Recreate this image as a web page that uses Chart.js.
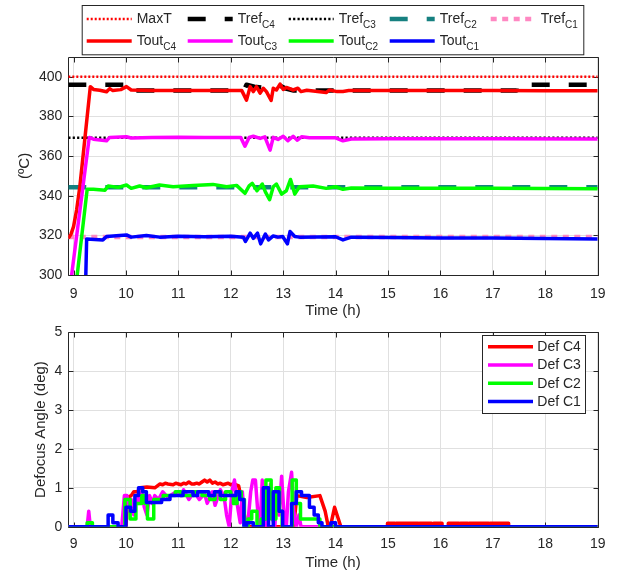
<!DOCTYPE html>
<html>
<head>
<meta charset="utf-8">
<script src="https://cdn.jsdelivr.net/npm/chart.js@4.4.0/dist/chart.umd.min.js"></script>
<style>
  body { margin: 0; background: #fff; }
  #wrap { position: relative; width: 617px; height: 574px; }
  #wrap canvas { position: absolute; left: 0; }
  #tempChart { top: 0; width: 617px; height: 322px; }
  #defChart { top: 318px; width: 617px; height: 256px; }
</style>
</head>
<body>
<div id="wrap">
  <canvas id="tempChart" width="617" height="322"></canvas>
  <canvas id="defChart" width="617" height="256"></canvas>
</div>
<script>
// ---- data ----
const hourTicks = [9, 10, 11, 12, 13, 14, 15, 16, 17, 18, 19];
const tempTicks = [300, 320, 340, 360, 380, 400];
const angleTicks = [0, 1, 2, 3, 4, 5];

// set points (ºC)
const maxT = 400;
const trefC3 = 369.2;
const trefC2 = 344.3;
const trefC1 = 319.2;
const trefC4 = [
  [8.9, 396], [10.0, 396], [10.0, 393], [12.25, 393], [12.3, 396], [12.45, 395],
  [12.6, 394.5], [12.75, 395], [12.9, 396], [13.05, 394], [13.2, 393],
  [17.45, 393], [17.45, 396], [19, 396]
];

// outlet temperatures (ºC)
const toutC4 = [
  [8.9, 318.5], [8.95, 320.5], [9.0, 324.4], [9.06, 333], [9.12, 344.5], [9.22, 369.7],
  [9.32, 395], [9.38, 393.6], [9.5, 393.2], [9.63, 392.4], [9.69, 394], [9.75, 393],
  [9.9, 393.5], [10.01, 395], [10.1, 393.3], [10.5, 393.0], [11.0, 393.1], [11.5, 393.0],
  [12.0, 393.1], [12.21, 393], [12.3, 388.2], [12.37, 395], [12.43, 392.5], [12.49, 395],
  [12.56, 391.7], [12.62, 394.2], [12.68, 392.5], [12.77, 388], [12.81, 394.2],
  [12.87, 393.3], [12.94, 396.3], [13.0, 393.6], [13.06, 394.6], [13.19, 393.3],
  [13.28, 394.2], [13.34, 392.5], [13.45, 393.2], [13.82, 392], [13.88, 393.3],
  [14.03, 392.5], [14.14, 392.6], [14.25, 393], [15, 393], [16, 393], [17, 393],
  [18, 392.9], [19, 392.9]
];
const toutC3 = [
  [8.93, 293], [9.3, 369.4], [9.38, 368.5], [9.63, 367.7], [9.69, 369.4], [10.01, 369.7],
  [10.1, 369.1], [10.5, 369.4], [11.0, 369.5], [11.5, 369.3], [12.0, 369.4], [12.19, 369.4],
  [12.27, 365], [12.35, 369.4], [12.43, 370], [12.56, 368.9], [12.65, 369.7], [12.75, 363],
  [12.81, 369.4], [12.9, 368.4], [13.0, 370], [13.09, 367.7], [13.19, 370], [13.27, 368],
  [13.35, 369.7], [13.5, 369.2], [14.0, 369.2], [14.14, 367.7], [14.3, 368.6],
  [15, 368.7], [17, 368.7], [19, 368.6]
];
const toutC2 = [
  [9.05, 295.5], [9.26, 343.2], [9.38, 343.2], [9.6, 342.8], [9.66, 344.9], [9.85, 344.2],
  [10.01, 345.4], [10.1, 343.7], [10.26, 344.9], [10.39, 344], [10.64, 345.4], [10.9, 344.5],
  [11.28, 345.2], [11.66, 345.7], [11.92, 344.5], [12.11, 345.2], [12.27, 341.2],
  [12.35, 344.9], [12.41, 346.2], [12.5, 342.5], [12.6, 345.9], [12.66, 341.9], [12.74, 338],
  [12.81, 344.5], [12.87, 345.9], [12.97, 340.8], [13.06, 342.5], [13.14, 348.2],
  [13.22, 340.8], [13.31, 344.5], [13.57, 344.9], [13.82, 343.7], [14.0, 344.5],
  [14.14, 343.2], [14.3, 343.9], [15, 343.8], [17, 343.7], [19, 343.5]
];
const toutC1 = [
  [9.23, 295], [9.25, 318.2], [9.56, 317.7], [9.63, 319.4], [10.01, 320.2], [10.1, 319.1],
  [10.39, 319.9], [10.64, 319.1], [11.0, 319.6], [11.5, 319.3], [12.0, 319.5], [12.24, 319.1],
  [12.28, 316.9], [12.37, 321.1], [12.43, 318.5], [12.51, 321.1], [12.57, 315.7],
  [12.66, 320.7], [12.72, 317.7], [12.81, 319.7], [12.9, 319.1], [12.99, 319.4],
  [13.08, 315.7], [13.13, 321.9], [13.22, 319.4], [13.31, 319.1], [14.0, 319.3],
  [14.14, 317.7], [14.3, 319.1], [15, 318.9], [16, 318.7], [17, 318.6], [18, 318.4], [19, 318.2]
];

// defocus angles (deg)
const defC4 = [
  [8.9, 0], [10.0, 0], [10.03, 0.75], [10.1, 0.8], [10.15, 0.9], [10.22, 0.9], [10.27, 1.0],
  [10.4, 1.02], [10.55, 1.0], [10.6, 1.05], [10.65, 1.1], [10.7, 1.08], [10.75, 1.12],
  [10.8, 1.1], [10.9, 1.08], [10.95, 1.12], [11.0, 1.1], [11.05, 1.08], [11.1, 1.12],
  [11.15, 1.1], [11.2, 1.15], [11.25, 1.1], [11.3, 1.1], [11.35, 1.12], [11.4, 1.1],
  [11.45, 1.15], [11.5, 1.2], [11.55, 1.15], [11.6, 1.2], [11.65, 1.12], [11.7, 1.15],
  [11.75, 1.1], [11.8, 1.12], [11.85, 1.08], [11.9, 1.1], [11.95, 1.12], [12.0, 1.08],
  [12.05, 1.1], [12.1, 1.08], [12.15, 1.05], [12.22, 0.6], [12.3, 0], [13.2, 0],
  [13.26, 0.8], [13.45, 0.75], [13.7, 0.8], [13.8, 0.4], [13.86, 0], [13.9, 0],
  [13.98, 0.5], [14.1, 0]
];
// short flickers of Def C4 in the afternoon: [start, end] (h) at burstLevel
const burstLevel = 0.09;
const defC4Bursts = [
  [14.99, 15.13], [15.15, 15.58], [15.6, 15.83], [15.87, 16.03],
  [16.15, 16.35], [16.38, 16.52], [16.55, 16.92], [16.95, 17.3]
];
const defC3 = [
  [8.9, 0], [9.26, 0], [9.29, 0.4], [9.32, 0], [9.92, 0], [9.97, 0.8], [10.02, 0.8],
  [10.06, 0.4], [10.1, 0.7], [10.15, 0.3], [10.2, 0.8], [10.25, 0.6], [10.3, 0.9],
  [10.35, 0.5], [10.4, 0.3], [10.45, 0.8], [10.5, 0.6], [10.55, 0.8], [10.62, 0.7],
  [10.7, 0.9], [10.8, 0.75], [10.9, 0.85], [11.0, 0.9], [11.05, 0.8], [11.1, 0.95],
  [11.2, 0.7], [11.3, 0.9], [11.4, 0.7], [11.5, 0.85], [11.55, 0.6], [11.65, 0.9],
  [11.7, 0.55], [11.8, 0.95], [11.87, 0.8], [11.92, 0.3], [11.97, 0], [12.02, 0.9],
  [12.07, 1.2], [12.12, 0.6], [12.18, 0.1], [12.22, 0.9], [12.26, 0.2], [12.32, 0],
  [12.38, 0.9], [12.42, 1.2], [12.47, 1.2], [12.52, 0.3], [12.56, 0], [12.6, 1.2],
  [12.64, 0.5], [12.68, 0], [12.72, 0.6], [12.76, 1.1], [12.8, 0.2], [12.84, 0],
  [12.88, 0.9], [12.92, 0.3], [12.97, 1.3], [13.02, 0.2], [13.06, 0], [13.1, 0.9],
  [13.16, 1.4], [13.2, 0.4], [13.25, 0], [13.3, 0.3], [13.34, 0], [19, 0]
];
// C2 and C1 hold each value until the next time stamp
const defC2 = [
  [8.9, 0], [9.26, 0.1], [9.36, 0], [9.98, 0.7], [10.08, 0.2], [10.19, 0.6], [10.3, 0.8],
  [10.36, 0.6], [10.41, 0.2], [10.53, 0.7], [10.71, 0.8], [10.94, 0.9], [11.05, 0.8],
  [11.3, 0.9], [11.45, 0.8], [11.6, 0.7], [11.7, 0.9], [11.8, 0.7], [11.9, 0.9], [12.0, 0.8],
  [12.05, 0.6], [12.12, 0.9], [12.2, 0.7], [12.26, 0], [12.33, 0.2], [12.4, 0.4], [12.5, 0],
  [12.58, 0.2], [12.67, 1.2], [12.77, 0.2], [12.86, 1.0], [12.93, 0.4], [12.98, 0],
  [13.17, 1.2], [13.25, 0.6], [13.33, 0.2], [13.7, 0], [19, 0]
];
const defC1 = [
  [8.9, 0], [9.66, 0.3], [9.75, 0.1], [9.85, 0], [10.0, 0.5], [10.09, 0.4], [10.17, 0.8],
  [10.24, 1.0], [10.32, 0.9], [10.39, 0.62], [10.68, 0.7], [10.84, 0.8], [11.09, 0.9],
  [11.28, 0.8], [11.37, 0.9], [11.58, 0.8], [11.69, 0.9], [11.8, 0.8], [12.1, 0.9],
  [12.17, 0.7], [12.25, 0], [12.3, 0.1], [12.43, 0], [12.62, 1.0], [12.72, 0],
  [12.81, 0.9], [12.92, 0.4], [12.99, 0], [13.16, 0.6], [13.25, 0.9], [13.35, 0.8],
  [13.5, 0.5], [13.59, 0.3], [13.67, 0.1], [13.74, 0], [13.91, 0.1], [14.0, 0], [19, 0]
];

// ---- helpers ----
const ink = "#262626";
const gridGray = "#e0e0e0";
const family = "'Liberation Sans', Arial, Helvetica, sans-serif";

const toPoints = pairs => pairs.map(([x, y]) => ({ x, y }));
const flat = v => toPoints([[8.9, v], [19, v]]);

function withBursts(pairs, bursts, level) {
  const out = pairs.slice();
  bursts.forEach(([a, b]) => out.push([a, 0], [a, level], [b, level], [b, 0]));
  out.push([19, 0]);
  return out;
}

// axes box with inward tick marks, drawn under the data
const framePlugin = {
  id: "frame",
  beforeDatasetsDraw(chart) {
    const { ctx, chartArea: a, scales } = chart;
    const L = Math.round(a.left) + 0.5, R = Math.round(a.right) + 0.5;
    const T = Math.round(a.top) + 0.5, B = Math.round(a.bottom) + 0.5;
    ctx.save();
    ctx.strokeStyle = ink;
    ctx.lineWidth = 1;
    ctx.beginPath();
    scales.x.ticks.forEach(t => {
      const px = Math.round(scales.x.getPixelForValue(t.value)) + 0.5;
      ctx.moveTo(px, B); ctx.lineTo(px, B - 5);
      ctx.moveTo(px, T); ctx.lineTo(px, T + 5);
    });
    scales.y.ticks.forEach(t => {
      const py = Math.round(scales.y.getPixelForValue(t.value)) + 0.5;
      ctx.moveTo(L, py); ctx.lineTo(L + 5, py);
      ctx.moveTo(R, py); ctx.lineTo(R - 5, py);
    });
    ctx.rect(L, T, R - L, B - T);
    ctx.stroke();
    ctx.restore();
  }
};

// boxed legend with subscripted labels
const boxLegend = {
  id: "boxLegend",
  afterDraw(chart, args, o) {
    const { ctx } = chart;
    ctx.save();
    ctx.fillStyle = "#fff";
    ctx.fillRect(o.box[0], o.box[1], o.box[2], o.box[3]);
    ctx.strokeStyle = ink;
    ctx.lineWidth = 1;
    ctx.strokeRect(o.box[0] + 0.5, o.box[1] + 0.5, o.box[2], o.box[3]);
    chart.data.datasets.forEach((ds, i) => {
      const col = i % o.perRow, row = Math.floor(i / o.perRow);
      const x = o.x0 + col * o.colStep, y = o.y0 + row * o.rowStep;
      ctx.strokeStyle = ds.borderColor;
      ctx.lineWidth = ds.borderWidth;
      ctx.setLineDash(ds.borderDash || []);
      ctx.beginPath();
      ctx.moveTo(x, y);
      ctx.lineTo(x + o.sample, y);
      ctx.stroke();
      ctx.setLineDash([]);
      ctx.fillStyle = ink;
      ctx.textBaseline = "middle";
      ctx.font = "14px " + family;
      ctx.fillText(ds.label, x + o.gap, y + 0.5);
      if (ds.sub) {
        const w = ctx.measureText(ds.label).width;
        ctx.font = "10px " + family;
        ctx.fillText(ds.sub, x + o.gap + w, y + 6);
      }
    });
    ctx.restore();
  }
};

function xAxis(height, tickPad, titlePad) {
  return {
    type: "linear", min: 8.9, max: 19,
    afterBuildTicks: s => { s.ticks = hourTicks.map(v => ({ value: v })); },
    afterFit: s => { s.height = height; },
    grid: { color: gridGray, drawTicks: false },
    border: { display: false },
    ticks: { color: ink, font: { family, size: 14 }, padding: tickPad, maxRotation: 0, autoSkip: false },
    title: { display: true, text: "Time (h)", color: ink, font: { family, size: 15 }, padding: { top: 0, bottom: titlePad } }
  };
}

function yAxis(min, max, ticks, title, titlePad) {
  return {
    min, max,
    afterBuildTicks: s => { s.ticks = ticks.map(v => ({ value: v })); },
    afterFit: s => { s.width = 68.3; },
    grid: { color: gridGray, drawTicks: false },
    border: { display: false },
    ticks: { color: ink, font: { family, size: 14 }, padding: 6 },
    title: { display: true, text: title, color: ink, font: { family, size: 15 }, padding: { top: titlePad, bottom: 0 } }
  };
}

const baseOptions = {
  responsive: false,
  animation: false,
  events: [],
  elements: {
    point: { radius: 0 },
    line: { tension: 0, borderCapStyle: "butt", borderJoinStyle: "round" }
  }
};

// ---- temperatures ----
new Chart(document.getElementById("tempChart"), {
  type: "line",
  data: {
    datasets: [
      { label: "MaxT", data: flat(maxT), borderColor: "#ff0000", borderWidth: 2.5, borderDash: [2, 2], order: 9 },
      { label: "Tref", sub: "C4", data: toPoints(trefC4), borderColor: "#000000", borderWidth: 4.5, borderDash: [18, 19], order: 8 },
      { label: "Tref", sub: "C3", data: flat(trefC3), borderColor: "#000000", borderWidth: 2.6, borderDash: [2.2, 2.2], order: 7 },
      { label: "Tref", sub: "C2", data: flat(trefC2), borderColor: "#168080", borderWidth: 4.5, borderDash: [18, 19], order: 6 },
      { label: "Tref", sub: "C1", data: flat(trefC1), borderColor: "#ff88c2", borderWidth: 4.5, borderDash: [6, 5.5], order: 5 },
      { label: "Tout", sub: "C4", data: toPoints(toutC4), borderColor: "#ff0000", borderWidth: 3.5, order: 4 },
      { label: "Tout", sub: "C3", data: toPoints(toutC3), borderColor: "#ff00ff", borderWidth: 3.5, order: 3 },
      { label: "Tout", sub: "C2", data: toPoints(toutC2), borderColor: "#00ff00", borderWidth: 3.5, order: 2 },
      { label: "Tout", sub: "C1", data: toPoints(toutC1), borderColor: "#0000ff", borderWidth: 3.5, order: 1 }
    ]
  },
  options: {
    ...baseOptions,
    layout: { padding: { left: 0, right: 19.3, top: 56.9, bottom: 0 } },
    scales: {
      x: xAxis(47, 10.5, 2.5),
      y: yAxis(300, 410, tempTicks, "(ºC)", 15.5)
    },
    plugins: {
      legend: { display: false },
      tooltip: { enabled: false },
      boxLegend: { box: [81.7, 5, 501.6, 49.3], perRow: 5, x0: 86.7, colStep: 101, y0: 19, rowStep: 22, sample: 45, gap: 50 }
    }
  },
  plugins: [framePlugin, boxLegend]
});

// ---- defocus angles ----
new Chart(document.getElementById("defChart"), {
  type: "line",
  data: {
    datasets: [
      { label: "Def C4", data: toPoints(withBursts(defC4, defC4Bursts, burstLevel)), borderColor: "#ff0000", borderWidth: 3.5, order: 4 },
      { label: "Def C3", data: toPoints(defC3), borderColor: "#ff00ff", borderWidth: 3.5, order: 3 },
      { label: "Def C2", data: toPoints(defC2), borderColor: "#00ff00", borderWidth: 3.5, stepped: true, order: 2 },
      { label: "Def C1", data: toPoints(defC1), borderColor: "#0000ff", borderWidth: 3.5, stepped: true, order: 1 }
    ]
  },
  options: {
    ...baseOptions,
    layout: { padding: { left: 0, right: 19.3, top: 7, bottom: 0 } },
    scales: {
      x: xAxis(47.3, 9, 2),
      y: yAxis(0, 5, angleTicks, "Defocus Angle (deg)", 31.8)
    },
    plugins: {
      legend: { display: false },
      tooltip: { enabled: false },
      boxLegend: { box: [482, 17, 103, 78], perRow: 1, x0: 488, colStep: 0, y0: 28.7, rowStep: 18.3, sample: 45, gap: 49.3 }
    }
  },
  plugins: [framePlugin, boxLegend]
});
</script>
</body>
</html>
